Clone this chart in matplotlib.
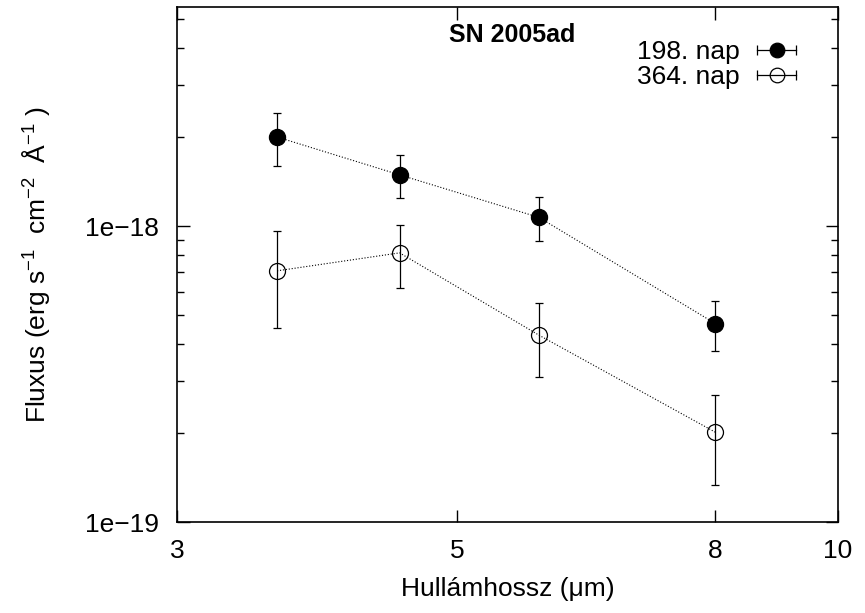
import math
import matplotlib
matplotlib.use("Agg")
import matplotlib.pyplot as plt
from matplotlib.legend_handler import HandlerBase
from matplotlib.lines import Line2D
from matplotlib.ticker import FixedLocator, FuncFormatter, LogLocator, NullLocator

plt.rcParams['font.family'] = ['Liberation Sans', 'DejaVu Sans']
plt.rcParams['mathtext.default'] = 'regular'

# hullamhossz (um), IRAC savok
wave = [3.6, 4.5, 5.8, 8.0]

# 198. nap
flux_198 = [2.0e-18, 1.49e-18, 1.07e-18, 4.68e-19]
err_198 = [0.41e-18, 0.25e-18, 0.18e-18, 0.90e-19]

# 364. nap
flux_364 = [7.06e-19, 8.12e-19, 4.28e-19, 2.01e-19]
err_364 = [2.55e-19, 1.95e-19, 1.20e-19, 0.68e-19]

labels = ["198. nap", "364. nap"]
xticks = [3, 5, 8, 10]
yticks = [1e-19, 1e-18]


class HBarHandler(HandlerBase):
    # gnuplot-szeru jelmagyarazat: vizszintes hibavonal markerrel
    def create_artists(self, legend, orig_handle, xdescent, ydescent,
                       width, height, fontsize, trans):
        y = height / 2 - ydescent
        x0, x1 = -xdescent, width - xdescent
        bar = Line2D([x0, x1], [y, y], color='k', lw=0.9, marker='|',
                     markersize=7, markeredgewidth=0.9, transform=trans)
        mk = Line2D([(x0 + x1) / 2], [y], linestyle='none',
                    marker='o', markersize=orig_handle.get_markersize(),
                    markerfacecolor=orig_handle.get_markerfacecolor(),
                    markeredgecolor='k', markeredgewidth=0.9, transform=trans)
        return [bar, mk]


fig = plt.figure(figsize=(8.65, 6.13), dpi=100)
ax = fig.add_axes([0.2046, 0.1484, 0.9688 - 0.2046, 0.9886 - 0.1484])

ax.errorbar(wave, flux_198, yerr=err_198, fmt='o', color='k', ms=11.5,
            mfc='k', mec='k', ecolor='k', elinewidth=0.9, capsize=3,
            capthick=0.9, zorder=3)
ax.plot(wave, flux_198, linestyle=':', color='k', lw=0.8, zorder=2)

ax.errorbar(wave, flux_364, yerr=err_364, fmt='o', color='k', ms=11.5,
            mfc='none', mec='k', mew=0.9, ecolor='k', elinewidth=0.9,
            capsize=3, capthick=0.9, zorder=3)
ax.plot(wave, flux_364, linestyle=':', color='k', lw=0.8, zorder=2)

ax.set_xscale('log')
ax.set_yscale('log')
ax.set_xlim(3, 10)
ax.set_ylim(1e-19, 5.5e-18)

ax.xaxis.set_major_locator(FixedLocator(xticks))
ax.xaxis.set_minor_locator(NullLocator())
ax.xaxis.set_major_formatter(FuncFormatter(lambda v, p: f"{v:g}"))

ax.yaxis.set_major_locator(FixedLocator(yticks))
ax.yaxis.set_minor_locator(LogLocator(base=10, subs=range(2, 10)))
ax.yaxis.set_major_formatter(
    FuncFormatter(lambda v, p: "1e\u2212%d" % round(-math.log10(v))))
ax.yaxis.set_minor_formatter(FuncFormatter(lambda v, p: ""))

ax.tick_params(which='both', direction='in', top=True, right=True,
               labelsize=19, width=1)
ax.tick_params(axis='x', pad=12)
ax.tick_params(axis='y', pad=13)
ax.tick_params(which='major', length=9)
ax.tick_params(which='minor', length=5)
for s in ax.spines.values():
    s.set_linewidth(1.2)

ax.set_xlabel("Hullámhossz (μm)", fontsize=19, labelpad=10)
ax.set_ylabel("Fluxus (erg s$^{-1}$  cm$^{-2}$  Å$^{-1}$ )", fontsize=19,
              labelpad=24)

ax.text(0.507, 0.945, "SN 2005ad", transform=ax.transAxes, fontsize=18,
        fontweight='bold', ha='center', va='center')

h1 = Line2D([], [], marker='o', ms=10.5, mfc='k', mec='k')
h2 = Line2D([], [], marker='o', ms=10.5, mfc='none', mec='k')
ax.legend([h1, h2], labels, handler_map={Line2D: HBarHandler()},
          loc='upper right', bbox_to_anchor=(0.953, 0.956), frameon=False,
          markerfirst=False, fontsize=19, handlelength=1.5,
          handletextpad=0.65, labelspacing=0.04, borderaxespad=0)

fig.savefig("out.png", dpi=100)
